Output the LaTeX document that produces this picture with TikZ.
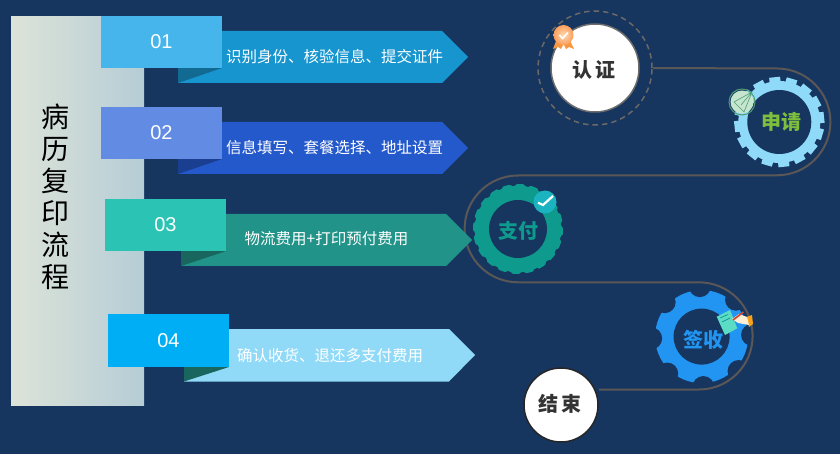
\documentclass[tikz,border=0pt]{standalone}
\usepackage{fontspec}
\usetikzlibrary{calc}
\setmainfont{Liberation Sans}
\newfontfamily\cjk{Noto Sans CJK SC}
\definecolor{bgc}{HTML}{16365F}
\definecolor{linec}{HTML}{5A5756}
\definecolor{panl}{HTML}{DDE3D8}\definecolor{panr}{HTML}{B5CDD6}
\definecolor{ra}{HTML}{1795CF}\definecolor{rb}{HTML}{2459CC}\definecolor{rc}{HTML}{219388}\definecolor{rd}{HTML}{90DAF8}
\definecolor{ba}{HTML}{45B5EC}\definecolor{bb}{HTML}{628CE4}\definecolor{bc}{HTML}{2BC4B4}\definecolor{bd}{HTML}{00AEF5}
\definecolor{fa}{HTML}{126A93}\definecolor{fb}{HTML}{1A3F90}\definecolor{fc}{HTML}{19665F}
\definecolor{gapp}{HTML}{8FDAF8}\definecolor{gpay}{HTML}{0E9A8C}\definecolor{gsign}{HTML}{2295F2}
\definecolor{tapp}{HTML}{7DBE3C}\definecolor{darkt}{HTML}{333333}
\definecolor{medl}{HTML}{FFD9B0}\definecolor{medd}{HTML}{FB9E5C}\definecolor{medr}{HTML}{F9963F}
\definecolor{plf}{HTML}{C5E5CF}\definecolor{plr}{HTML}{4E9D74}\definecolor{chk}{HTML}{1BB3C0}
\definecolor{notec}{HTML}{5BDCC4}\definecolor{handc}{HTML}{FBF0D6}\definecolor{penc}{HTML}{D2452F}\definecolor{cuff}{HTML}{F9A11B}
\tikzset{
 numbox/.style={minimum width=121pt,minimum height=52pt,inner sep=0pt,text=white,font=\fontsize{20}{24}\selectfont},
 ribtext/.style={inner sep=0pt,text=white,font=\cjk\fontsize{15.5}{18}\selectfont},
 steptitle/.style={inner sep=0pt,font=\cjk\bfseries\fontsize{20}{24}\selectfont,text=#1},
 hubc/.style={circle,fill=bgc,inner sep=0pt,minimum size=#1},
 whitec/.style={circle,fill=white,inner sep=0pt,minimum size=#1},
 connector/.style={draw=linec,line width=2pt},
}
\begin{document}
\begin{tikzpicture}[x=1pt,y=-1pt]
\useasboundingbox (0,0) rectangle (840,454);
\fill[bgc] (0,0) rectangle (840,454);
% panel
\node[minimum width=133pt,minimum height=389pt,inner sep=0pt,left color=panl,right color=panr,anchor=north west] (panel) at (11,16) {};
\node[anchor=center,inner sep=0pt,align=center,text=black,font=\cjk\fontsize{28}{32}\selectfont] (ptitle) at (55,197) {病\\历\\复\\印\\流\\程};
% gears
\foreach \a in {0,22.5,...,337.5}{\fill[gapp,shift={(779.3,122)},rotate=\a+6] (36,-5.5) rectangle (45,5.5);}
\fill[gapp] (779.3,122) circle[radius=41pt];
\fill[gpay] (518,229) circle[radius=45pt];
\foreach \a in {0,18,...,342}{\fill[bgc] ($(518,229)+(\a+6:47.5pt)$) circle[radius=4.4pt];}
\fill[gsign] (701.6,336.6) circle[radius=46.5pt];
\foreach \a in {0,45,...,315}{\fill[bgc] ($(701.6,336.6)+(\a+2:50.5pt)$) circle[radius=11pt];}
% step circles and hubs
\node[circle,draw=linec!90!white,line width=1.5pt,dash pattern=on 5.5pt off 4pt,minimum size=114pt,inner sep=0pt] (ring) at (595,68) {};
\node[whitec=88pt,draw=gray!85!black,line width=1.5pt] (auth) at (595,68) {};
\node[hubc=64pt] (apply) at (779.3,122) {};
\node[hubc=58pt] (pay) at (518,229) {};
\node[hubc=56pt] (sign) at (701.6,336.6) {};
\node[whitec=74pt,draw=black!85,line width=1.5pt] (finish) at (561,405) {};
\node[steptitle=darkt] (tauth) at (593.5,70) {认\kern3pt证};
\node[steptitle=tapp] (tapply) at (781.5,122) {申请};
\node[steptitle=gpay] (tpay) at (518.5,231) {支付};
\node[steptitle=gsign] (tsign) at (703,339.5) {签收};
\node[steptitle=darkt] (tfinish) at (560,404) {结\kern3pt束};
% connector
\coordinate (ca) at (777,68.5);
\coordinate (cb) at (518,175.5);
\coordinate (cc) at (699,282.3);
\coordinate (cd) at (599,389.6);
\draw[connector] (ring.east) -- (ca) arc[start angle=90,end angle=-90,radius=53.4pt]
  -- (cb) arc[start angle=90,end angle=270,radius=53.4pt]
  -- (cc) arc[start angle=90,end angle=-90,radius=53.6pt] -- (cd);
% ribbons
\fill[ra] (178,31) -- (442,31) -- (468,57) -- (442,83) -- (178,83) -- cycle;
\fill[rb] (178,122) -- (442,122) -- (468,148) -- (442,174) -- (178,174) -- cycle;
\fill[rc] (181,214) -- (446,214) -- (472,240) -- (446,266) -- (181,266) -- cycle;
\fill[rd] (184,329) -- (449,329) -- (475,355) -- (449,381.5) -- (184,381.5) -- cycle;
% folds
\fill[fa] (178,83) -- (222,68) -- (178,68) -- cycle;
\fill[fb] (178,174) -- (222,159) -- (178,159) -- cycle;
\fill[fc] (181,266) -- (226,251) -- (181,251) -- cycle;
\fill[fc] (184,381.5) -- (229,367) -- (184,367) -- cycle;
% number boxes
\node[numbox,fill=ba] (n1) at (161.5,42) {01};
\node[numbox,fill=bb] (n2) at (161.5,133) {02};
\node[numbox,fill=bc] (n3) at (165.5,225) {03};
\node[numbox,fill=bd,minimum height=53pt] (n4) at (168.5,340.5) {04};
% ribbon labels
\node[ribtext] (t1) at (334.5,57) {识别身份、核验信息、提交证件};
\node[ribtext] (t2) at (334.5,148) {信息填写、套餐选择、地址设置};
\node[ribtext] (t3) at (326.5,239) {物流费用+打印预付费用};
\node[ribtext] (t4) at (330,355.5) {确认收货、退还多支付费用};
% medal icon
\fill[medr] (556,41) -- (553,49) -- (558,47) -- (561,49) -- (564,43) -- cycle;
\fill[medr] (570,41) -- (574,49) -- (569,47) -- (566,49) -- (563,43) -- cycle;
\shade[inner color=medl,outer color=medd] (563.5,35) circle[radius=10pt];
\draw[white,line width=1.6pt] (559.5,35) -- (562.5,38.5) -- (568,32.5);
% plane icon
\fill[plf] (742,102) circle[radius=11.5pt];
\draw[plr,line width=1pt] (742,102) circle[radius=13pt];
\draw[plr,line width=.6pt] (752,92) -- (734,102) -- (744,112) -- cycle (752,92) -- (741,105);
% check icon
\fill[chk] (545,202) circle[radius=11.5pt];
\draw[white,line width=2.2pt] (538,202.7) -- (543,205) -- (553,196);
% note and pen icon
\fill[notec] (716.7,316.7) -- (730,310) -- (737.3,328.3) -- (725,335) -- cycle;
\draw[teal,line width=.5pt] (720,318) -- (728,314.5) (722,322) -- (730,318);
\fill[cuff] (746.5,317) -- (752,315) -- (753,324) -- (749,327) -- cycle;
\fill[handc] (732,319) -- (739,314) -- (747,317) -- (749,325) -- (738,323) -- cycle;
\draw[penc,line width=1.7pt] (733,320) -- (743.5,312);
\end{tikzpicture}
\end{document}
